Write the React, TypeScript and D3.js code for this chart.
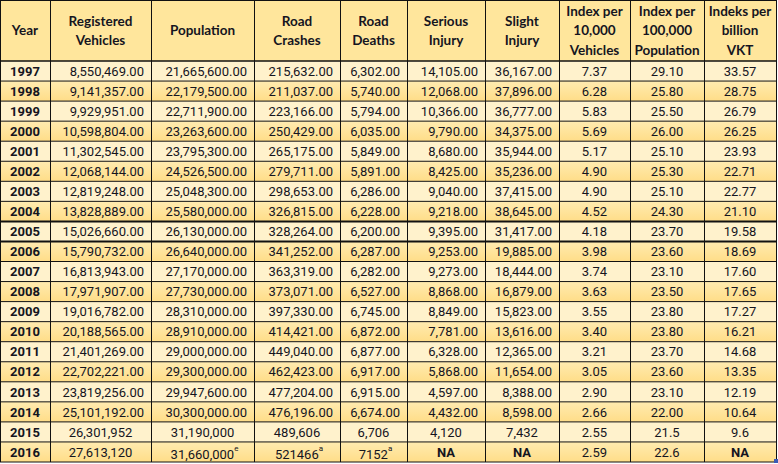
import React from 'react';
import * as d3 from 'd3';

// header labels (line breaks as in the sheet)
const headers = [
    ['Year'],
    ['Registered', 'Vehicles'],
    ['Population'],
    ['Road', 'Crashes'],
    ['Road', 'Deaths'],
    ['Serious', 'Injury'],
    ['Slight', 'Injury'],
    ['Index per', '10,000', 'Vehicles'],
    ['Index per', '100,000', 'Population'],
    ['Indeks per', 'billion', 'VKT'],
];

const years = ['1997', '1998', '1999', '2000', '2001', '2002', '2003', '2004', '2005', '2006',
    '2007', '2008', '2009', '2010', '2011', '2012', '2013', '2014', '2015', '2016'];

const vehicles = ['8,550,469.00', '9,141,357.00', '9,929,951.00', '10,598,804.00', '11,302,545.00',
    '12,068,144.00', '12,819,248.00', '13,828,889.00', '15,026,660.00', '15,790,732.00',
    '16,813,943.00', '17,971,907.00', '19,016,782.00', '20,188,565.00', '21,401,269.00',
    '22,702,221.00', '23,819,256.00', '25,101,192.00', '26,301,952', '27,613,120'];

const population = ['21,665,600.00', '22,179,500.00', '22,711,900.00', '23,263,600.00', '23,795,300.00',
    '24,526,500.00', '25,048,300.00', '25,580,000.00', '26,130,000.00', '26,640,000.00',
    '27,170,000.00', '27,730,000.00', '28,310,000.00', '28,910,000.00', '29,000,000.00',
    '29,300,000.00', '29,947,600.00', '30,300,000.00', '31,190,000', '31,660,000^e'];

const crashes = ['215,632.00', '211,037.00', '223,166.00', '250,429.00', '265,175.00',
    '279,711.00', '298,653.00', '326,815.00', '328,264.00', '341,252.00',
    '363,319.00', '373,071.00', '397,330.00', '414,421.00', '449,040.00',
    '462,423.00', '477,204.00', '476,196.00', '489,606', '521466^a'];

const deaths = ['6,302.00', '5,740.00', '5,794.00', '6,035.00', '5,849.00',
    '5,891.00', '6,286.00', '6,228.00', '6,200.00', '6,287.00',
    '6,282.00', '6,527.00', '6,745.00', '6,872.00', '6,877.00',
    '6,917.00', '6,915.00', '6,674.00', '6,706', '7152^a'];

const serious = ['14,105.00', '12,068.00', '10,366.00', '9,790.00', '8,680.00',
    '8,425.00', '9,040.00', '9,218.00', '9,395.00', '9,253.00',
    '9,273.00', '8,868.00', '8,849.00', '7,781.00', '6,328.00',
    '5,868.00', '4,597.00', '4,432.00', '4,120', 'NA'];

const slight = ['36,167.00', '37,896.00', '36,777.00', '34,375.00', '35,944.00',
    '35,236.00', '37,415.00', '38,645.00', '31,417.00', '19,885.00',
    '18,444.00', '16,879.00', '15,823.00', '13,616.00', '12,365.00',
    '11,654.00', '8,388.00', '8,598.00', '7,432', 'NA'];

const perVehicles = ['7.37', '6.28', '5.83', '5.69', '5.17', '4.90', '4.90', '4.52', '4.18', '3.98',
    '3.74', '3.63', '3.55', '3.40', '3.21', '3.05', '2.90', '2.66', '2.55', '2.59'];

const perPopulation = ['29.10', '25.80', '25.50', '26.00', '25.10', '25.30', '25.10', '24.30', '23.70', '23.60',
    '23.10', '23.50', '23.80', '23.80', '23.70', '23.60', '23.10', '22.00', '21.5', '22.6'];

const perVKT = ['33.57', '28.75', '26.79', '26.25', '23.93', '22.71', '22.77', '21.10', '19.58', '18.69',
    '17.60', '17.65', '17.27', '16.21', '14.68', '13.35', '12.19', '10.64', '9.6', 'NA'];

const columns = [years, vehicles, population, crashes, deaths, serious, slight, perVehicles, perPopulation, perVKT];

// layout
const colWidths = [50, 101, 103, 86, 67, 78, 74, 71, 74, 72];
const headerH = 61;
const tableBottom = 462;
const headFont = 'Lato, "Open Sans", sans-serif';
const bodyFont = 'Roboto, "Noto Sans", sans-serif';
const textColor = '#15151f';

export default function App() {
    const edges = [0, ...d3.cumsum(colWidths)];
    const tableW = edges[edges.length - 1];

    const y = d3.scaleBand<string>()
        .domain(years)
        .range([headerH, tableBottom]);

    const cellText = (txt: string, ci: number, yi: number) => {
        const x0 = edges[ci], x1 = edges[ci + 1];
        const cy = (y(years[yi]) as number) + y.bandwidth() / 2;
        const bold = ci === 0 || txt === 'NA';
        const right = ci >= 1 && ci <= 6 && txt.endsWith('.00');
        const [main, sup] = txt.split('^');
        return (
            <text key={ci + '-' + yi}
                  x={right ? x1 - 7 : (x0 + x1) / 2 + (sup ? 2 : 0)}
                  y={cy + (sup ? 2 : 0)}
                  dy="0.36em"
                  textAnchor={right ? 'end' : 'middle'}
                  fontFamily={bodyFont}
                  fontWeight={bold ? 700 : 400}
                  fontSize={13}
                  fill={textColor}>
                {main}
                {sup ? <tspan fontSize={8} dy="-0.9em">{sup}</tspan> : null}
            </text>
        );
    };

    return (
        <svg width={778} height={464}
             style={{position: 'absolute', left: 0, top: 0, background: '#fff'}}
             fontFamily={headFont}>
            <defs>
                <linearGradient id="darkRow" x1="0" y1="0" x2="0" y2="1">
                    <stop offset="0%" stopColor="#ffebb0"/>
                    <stop offset="100%" stopColor="#ffdd88"/>
                </linearGradient>
            </defs>

            {/* header */}
            <rect x={0} y={0} width={tableW} height={headerH} fill="#ffe69c"/>
            {headers.map((lines, ci) => {
                const cx = (edges[ci] + edges[ci + 1]) / 2;
                const lh = 19.5;
                const top = headerH / 2 - (lines.length - 1) * lh / 2;
                return (
                    <text key={'h' + ci} textAnchor="middle" fontWeight={700} fontSize={13.5} fill={textColor}>
                        {lines.map((l, li) => (
                            <tspan key={li} x={cx} y={top + li * lh} dy="0.36em">{l}</tspan>
                        ))}
                    </text>
                );
            })}

            {/* row fills */}
            {years.map((yr, i) => (
                <rect key={'r' + yr} x={0} y={y(yr)} width={tableW} height={y.bandwidth()}
                      fill={i % 2 === 0 ? '#fff2cc' : 'url(#darkRow)'}/>
            ))}

            {/* grid lines */}
            {years.map((yr, i) => {
                const yy = y(yr) as number;
                const thick = yr === '2005' || yr === '2006';
                return <line key={'hl' + i} x1={0} x2={tableW} y1={yy} y2={yy}
                             stroke="#111" strokeWidth={i === 0 ? 1.6 : (thick ? 2 : 1)}/>;
            })}
            {edges.map((ex, i) => (
                <line key={'vl' + i} x1={ex + 0.5} x2={ex + 0.5} y1={0} y2={tableBottom}
                      stroke="#111" strokeWidth={1}/>
            ))}
            <rect x={0.5} y={0.5} width={tableW} height={tableBottom - 0.5}
                  fill="none" stroke="#111" strokeWidth={1}/>

            {/* cells */}
            {columns.map((col, ci) => col.map((txt, yi) => cellText(txt, ci, yi)))}

            {/* excel fill handle */}
            <rect x={tableW - 2} y={tableBottom - 3} width={4} height={4} fill="#3b5bb5"/>
        </svg>
    );
}
